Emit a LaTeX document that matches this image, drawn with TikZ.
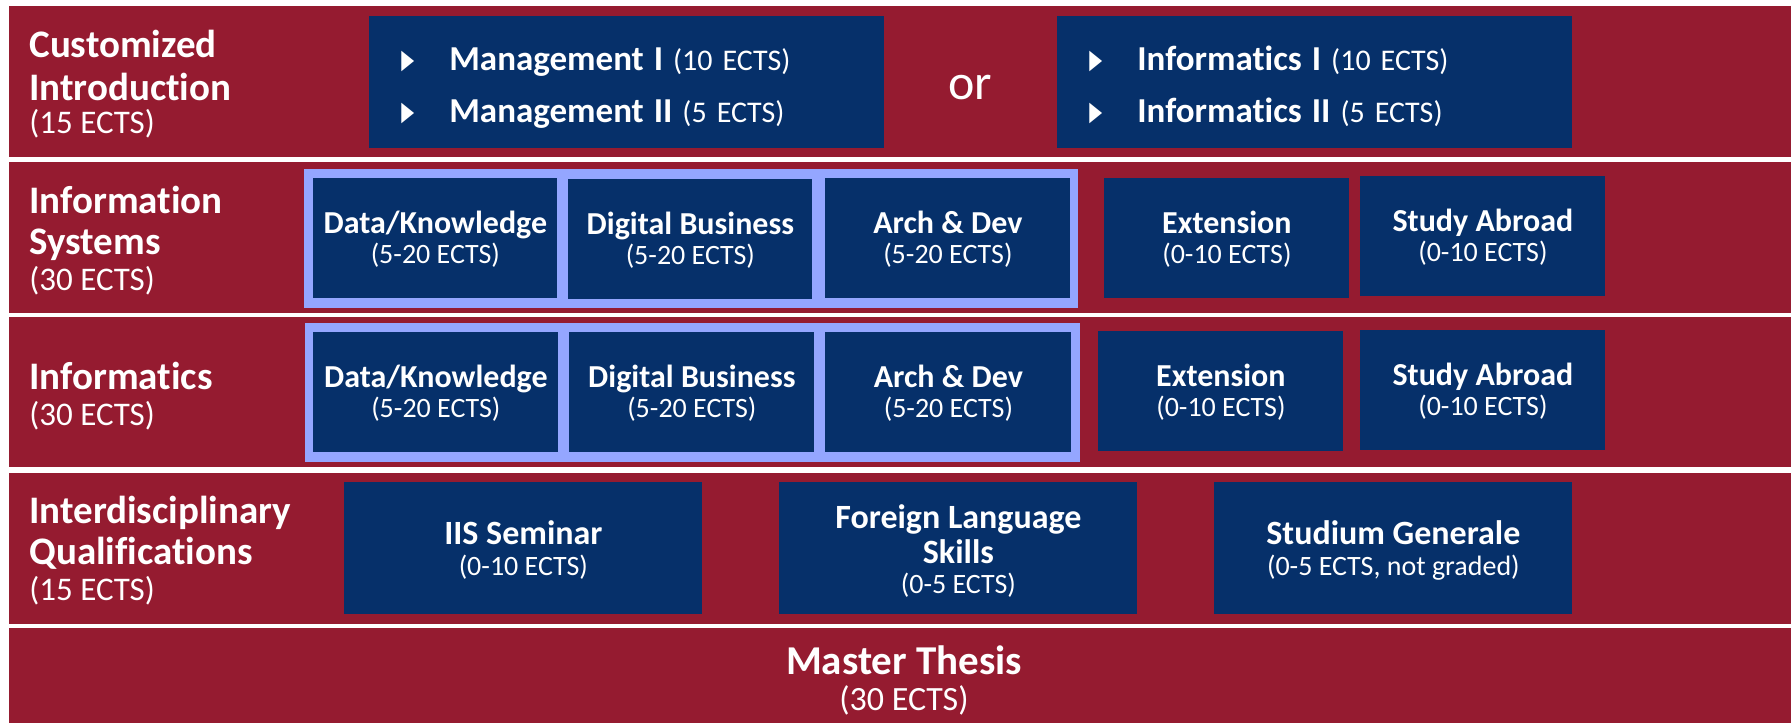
\documentclass[tikz,border=0pt]{standalone}
\usepackage{fontspec}
\setmainfont{Carlito}[Ligatures=NoCommon]
\newfontfamily\symfont{DejaVu Sans}
\setlength{\lineskiplimit}{-50pt}

\tikzset{every picture/.style={line width=0.75pt}}
\tikzset{
  band/.style={draw opacity=0, fill={rgb, 255:red, 149; green, 27; blue, 48}, fill opacity=1},
  frame/.style={draw opacity=0, fill={rgb, 255:red, 148; green, 166; blue, 255}, fill opacity=1},
  course/.style={fill={rgb, 255:red, 6; green, 48; blue, 106}, fill opacity=1, text=white, align=center,
    inner sep=0pt, anchor=north west, font=\fontsize{28}{30}\selectfont},
  modlist/.style={course, align=left, inner xsep=32pt, font=\fontsize{30}{52}\selectfont},
  rowlabel/.style={text=white, align=left, inner sep=0pt, anchor=north west, font=\fontsize{33}{36}\selectfont},
}
\newcommand{\ctitle}[1]{{\bfseries\fontsize{32}{30}\selectfont #1}}
\newcommand{\ititle}[1]{{\bfseries\fontsize{34}{30}\selectfont #1}}
\newcommand{\mtitle}[1]{{\bfseries\fontsize{35}{52}\selectfont #1}}
\newcommand{\rtitle}[1]{{\bfseries\fontsize{39}{36}\selectfont #1}}
\newcommand{\topstrut}[1]{\rule{0pt}{#1}}
\newcommand{\botstrut}[1]{\rule[-#1]{0pt}{#1}}
\newcommand{\bul}{\makebox[48pt][l]{\raisebox{2pt}{\scalebox{0.62}[1]{\symfont\fontsize{27}{27}\selectfont ▶}}}}

\begin{document}
\begin{tikzpicture}[x=1pt,y=1pt,yscale=-1,xscale=1]
	\useasboundingbox (0,0) rectangle (1791,723);
	\fill [white] (0,0) rectangle (1791,723);

	%Shape: Rectangle [bands]
	\draw [band] (9,6) -- (1791,6) -- (1791,157) -- (9,157) -- cycle ;
	\draw [band] (9,162) -- (1791,162) -- (1791,313) -- (9,313) -- cycle ;
	\draw [band] (9,317) -- (1791,317) -- (1791,467) -- (9,467) -- cycle ;
	\draw [band] (9,473) -- (1791,473) -- (1791,624) -- (9,624) -- cycle ;
	\draw [band] (9,628) -- (1791,628) -- (1791,723) -- (9,723) -- cycle ;

	%Row labels
	\node [rowlabel] (labintro) at (29,25) {\topstrut{32pt}\rtitle{Customized}\\[7pt]\rtitle{Introduction}\\[-3pt](15 ECTS)};
	\node [rowlabel] (labis) at (29,181) {\topstrut{32pt}\rtitle{Information}\\[5pt]\rtitle{Systems}\\(30 ECTS)};
	\node [rowlabel] (labinf) at (29,357) {\topstrut{32pt}\rtitle{Informatics}\\(30 ECTS)};
	\node [rowlabel] (labiq) at (29,491) {\topstrut{32pt}\rtitle{Interdisciplinary}\\[5pt]\rtitle{Qualifications}\\(15 ECTS)};

	%Row 1: introduction
	\node [modlist, minimum width=515pt, minimum height=132pt, text width=451pt] (mgmt) at (369,16)
	  {\topstrut{38pt}\bul\mtitle{Management I} (10 ECTS)\\\bul\mtitle{Management II} (5 ECTS)\botstrut{10pt}};
	\node [text=white, font=\fontsize{50}{50}\selectfont] (orword) at (970,88) {or};
	\node [modlist, minimum width=515pt, minimum height=132pt, text width=451pt] (inf) at (1057,16)
	  {\topstrut{38pt}\bul\mtitle{Informatics I} (10 ECTS)\\\bul\mtitle{Informatics II} (5 ECTS)\botstrut{10pt}};

	%Row 2: information systems
	\draw [frame] (304,169) -- (1078,169) -- (1078,308) -- (304,308) -- cycle ;
	\node [course, minimum width=244pt, minimum height=120pt] (isdk) at (313,178) {\topstrut{30pt}\ctitle{Data/Knowledge}\\(5-20 ECTS)\botstrut{10pt}};
	\node [course, minimum width=244pt, minimum height=120pt] (isdb) at (568,179) {\topstrut{30pt}\ctitle{Digital Business}\\(5-20 ECTS)\botstrut{10pt}};
	\node [course, minimum width=245pt, minimum height=120pt] (isad) at (825,178) {\topstrut{30pt}\ctitle{Arch \& Dev}\\(5-20 ECTS)\botstrut{10pt}};
	\node [course, minimum width=245pt, minimum height=120pt] (isext) at (1104,178) {\topstrut{30pt}\ctitle{Extension}\\(0-10 ECTS)\botstrut{10pt}};
	\node [course, minimum width=245pt, minimum height=120pt] (isabr) at (1360,176) {\topstrut{30pt}\ctitle{Study Abroad}\\(0-10 ECTS)\botstrut{10pt}};

	%Row 3: informatics
	\draw [frame] (305,323) -- (1080,323) -- (1080,462) -- (305,462) -- cycle ;
	\node [course, minimum width=245pt, minimum height=120pt] (indk) at (313,332) {\topstrut{30pt}\ctitle{Data/Knowledge}\\(5-20 ECTS)\botstrut{10pt}};
	\node [course, minimum width=245pt, minimum height=120pt] (indb) at (569,332) {\topstrut{30pt}\ctitle{Digital Business}\\(5-20 ECTS)\botstrut{10pt}};
	\node [course, minimum width=246pt, minimum height=120pt] (inad) at (825,332) {\topstrut{30pt}\ctitle{Arch \& Dev}\\(5-20 ECTS)\botstrut{10pt}};
	\node [course, minimum width=245pt, minimum height=120pt] (inext) at (1098,331) {\topstrut{30pt}\ctitle{Extension}\\(0-10 ECTS)\botstrut{10pt}};
	\node [course, minimum width=245pt, minimum height=120pt] (inabr) at (1360,330) {\topstrut{30pt}\ctitle{Study Abroad}\\(0-10 ECTS)\botstrut{10pt}};

	%Row 4: interdisciplinary
	\node [course, minimum width=358pt, minimum height=132pt] (iis) at (344,482) {\topstrut{33pt}\ititle{IIS Seminar}\\[1.5pt](0-10 ECTS)\botstrut{10pt}};
	\node [course, minimum width=358pt, minimum height=132pt] (flang) at (779,482) {\topstrut{33pt}\ititle{Foreign Language}\\[4.7pt]\ititle{Skills}\\(0-5 ECTS)\botstrut{8pt}};
	\node [course, minimum width=358pt, minimum height=132pt] (stud) at (1214,482) {\topstrut{33pt}\ititle{Studium Generale}\\[1.5pt](0-5 ECTS, not graded)\botstrut{10pt}};

	%Row 5: thesis
	\node [text=white, align=center, inner sep=0pt, font=\fontsize{34}{36}\selectfont] (thesis) at (904,679.5)
	  {\topstrut{33pt}{\bfseries\fontsize{41}{36}\selectfont Master Thesis}\\(30 ECTS)\botstrut{8pt}};

\end{tikzpicture}
\end{document}
